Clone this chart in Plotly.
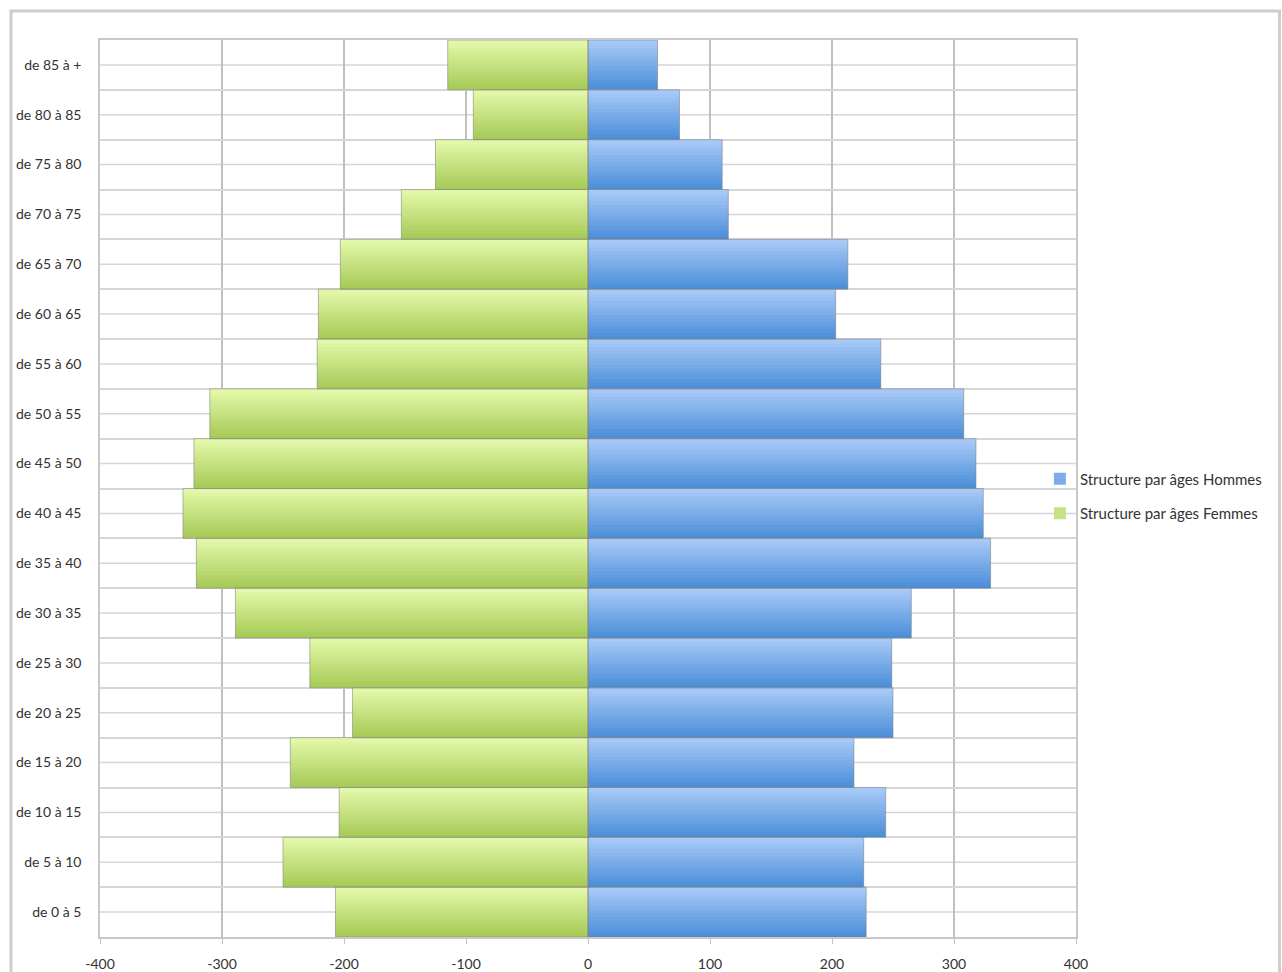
import plotly.graph_objects as go

# ---------------- data ----------------
categories = ["de 0 à 5", "de 5 à 10", "de 10 à 15", "de 15 à 20", "de 20 à 25",
              "de 25 à 30", "de 30 à 35", "de 35 à 40", "de 40 à 45", "de 45 à 50",
              "de 50 à 55", "de 55 à 60", "de 60 à 65", "de 65 à 70", "de 70 à 75",
              "de 75 à 80", "de 80 à 85", "de 85 à +"]
hommes = [228, 226, 244, 218, 250, 249, 265, 330, 324, 318,
          308, 240, 203, 213, 115, 110, 75, 57]
femmes = [-207, -250, -204, -244, -193, -228, -289, -321, -332, -323,
          -310, -222, -221, -203, -153, -125, -94, -115]
x_ticks = [-400, -300, -200, -100, 0, 100, 200, 300, 400]
name_h = "Structure par âges Hommes"
name_f = "Structure par âges Femmes"

# ---------------- style ----------------
FONT = "Lato, Carlito, Calibri, 'Open Sans', sans-serif"
N = 14  # gradient slices per bar
EPS = 0.02
blue_dark, blue_light = (74, 142, 216), (166, 200, 247)
green_dark, green_light = (166, 202, 86), (226, 247, 168)


def mix(c1, c2, t):
    return "rgb(%d,%d,%d)" % tuple(round(a + (b - a) * t) for a, b in zip(c1, c2))


fig = go.Figure()


def add_series(values, name, dark, light):
    for k in range(N):
        t = k / (N - 1)
        ext = EPS if k > 0 else 0.0
        fig.add_trace(go.Bar(
            y=categories, x=values, orientation="h",
            width=1.0 / N + ext, offset=-0.5 + k / N - ext,
            marker=dict(color=mix(dark, light, t), line=dict(width=0)),
            name=name, legendgroup=name,
            showlegend=(k == N // 2),
            hoverinfo="skip" if k != N // 2 else None,
        ))


add_series(hommes, name_h, blue_dark, blue_light)
add_series(femmes, name_f, green_dark, green_light)

# thin outlines around the bars
for vals in (hommes, femmes):
    fig.add_trace(go.Bar(
        y=categories, x=vals, orientation="h", width=1.0, offset=-0.5,
        marker=dict(color="rgba(0,0,0,0)", line=dict(color="rgba(130,130,130,0.55)", width=1)),
        showlegend=False, hoverinfo="skip",
    ))

shapes = []
# extra horizontal grid lines at category centres
for c in categories:
    shapes.append(dict(type="line", xref="x", yref="y", x0=-400, x1=400, y0=c, y1=c,
                       line=dict(color="#d6d6d6", width=1.5), layer="below"))
# outer chart frame
shapes.append(dict(type="rect", xref="paper", yref="paper",
                   x0=-0.0912, x1=1.2085, y0=-0.06, y1=1.0323,
                   line=dict(color="#cdcdcd", width=3), fillcolor="rgba(0,0,0,0)",
                   layer="above"))

fig.update_layout(
    width=1282, height=972,
    margin=dict(l=100, r=206, t=40, b=35, autoexpand=False),
    paper_bgcolor="white", plot_bgcolor="white",
    barmode="overlay",
    font=dict(family=FONT, size=15, color="#333333"),
    shapes=shapes,
    legend=dict(x=0.963, xanchor="left", y=0.4916, yanchor="middle",
                traceorder="grouped", tracegroupgap=12,
                font=dict(family=FONT, size=15, color="#333333"),
                bgcolor="rgba(0,0,0,0)", itemwidth=30),
    xaxis=dict(range=[-400, 400], tickvals=x_ticks, ticktext=[str(v) for v in x_ticks],
               automargin=False,
               showgrid=True, gridcolor="#c0c0c0", gridwidth=1.6,
               zeroline=True, zerolinecolor="#9a9a9a", zerolinewidth=1.5,
               showline=True, mirror=True, linecolor="#c8c8c8", linewidth=1.5,
               ticks="outside", ticklen=5, tickcolor="#c4c4c4",
               ticklabelstandoff=8,
               tickfont=dict(family=FONT, size=14, color="#333333")),
    yaxis=dict(type="category", categoryorder="array", categoryarray=categories,
               range=[-0.5, len(categories) - 0.5], automargin=False,
               tickson="boundaries", showgrid=True, gridcolor="#d6d6d6", gridwidth=1.5,
               showline=True, mirror=True, linecolor="#c8c8c8", linewidth=1.5,
               ticks="", ticklabelstandoff=14,
               tickfont=dict(family=FONT, size=14, color="#333333")),
)

fig.write_html("out.html")
